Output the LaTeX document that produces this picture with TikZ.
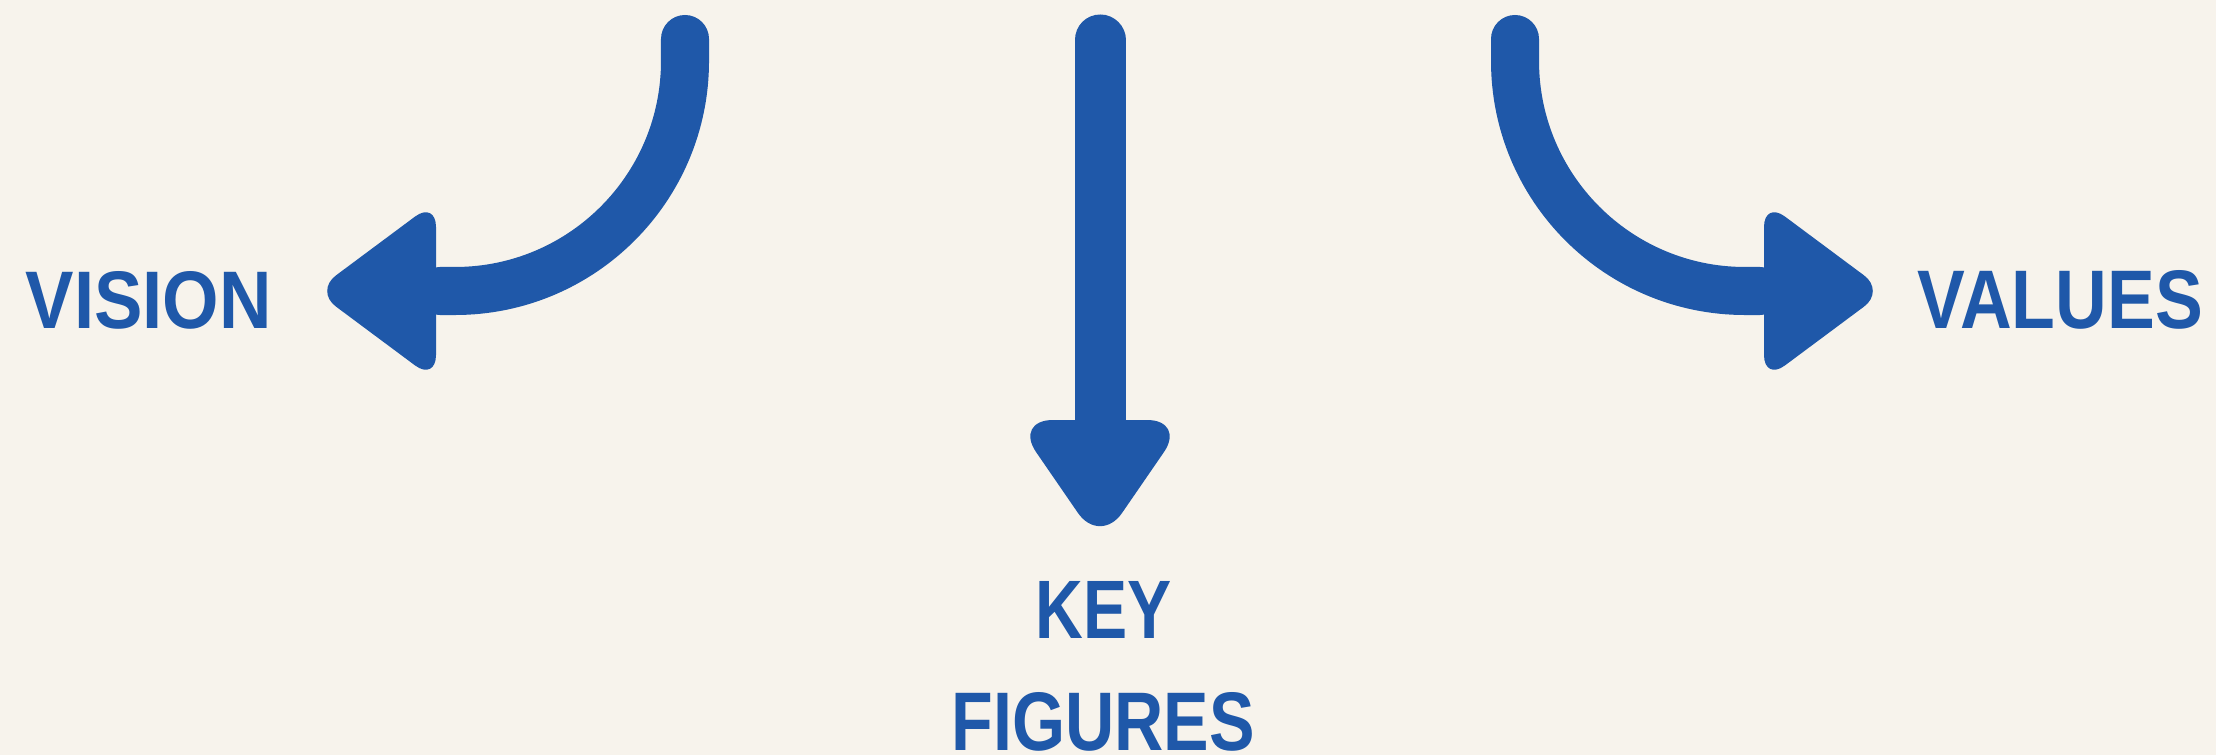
\documentclass[tikz,border=0pt]{standalone}
\usepackage{fontspec}
\usepackage{graphicx}
\setmainfont{Liberation Sans}
\definecolor{bg}{HTML}{F7F3EC}
\definecolor{blu}{HTML}{1F58A9}
\tikzset{
  shaft/.style={draw=blu, line width=0.48cm, line cap=round},
  head/.style={fill=blu, draw=none},
  lbl/.style={anchor=base west, inner sep=0pt, text=blu, font=\bfseries}
}
\begin{document}
\begin{tikzpicture}[x=0.01cm, y=-0.01cm]
\fill[bg] (0,0) rectangle (2216,755);
\useasboundingbox (0,0) rectangle (2216,755);
% labels
\node[lbl] (vision) at (25,328) {\resizebox{2.46cm}{0.57cm}{VISION}};
\node[lbl] (values) at (1917,329) {\resizebox{2.85cm}{0.58cm}{VALUES}};
\node[lbl] (key) at (1035,638) {\resizebox{1.36cm}{0.57cm}{KEY}};
\node[lbl] (figures) at (951,750) {\resizebox{3.03cm}{0.58cm}{FIGURES}};
% coordinates
\coordinate (ls) at (685,39);
\coordinate (lb) at (685,61);
\coordinate (lc) at (455,291);
\coordinate (le) at (440,291);
\coordinate (rs) at (1515,39);
\coordinate (rb) at (1515,61);
\coordinate (rc) at (1745,291);
\coordinate (re) at (1760,291);
\coordinate (ms) at (1100,40);
\coordinate (me) at (1100,425);
% left arrow
\draw[shaft] (ls) -- (lb) .. controls (685,188) and (582,291) .. (lc) -- (le);
\fill[head, rounded corners=0.26cm] (436,201) -- (436,381) -- (315,291) -- cycle;
% right arrow
\draw[shaft] (rs) -- (rb) .. controls (1515,188) and (1618,291) .. (rc) -- (re);
\fill[head, rounded corners=0.26cm] (1764,201) -- (1764,381) -- (1885,291) -- cycle;
% middle arrow
\draw[shaft, line width=0.51cm] (ms) -- (me);
\fill[head, rounded corners=0.39cm] (1014,420) -- (1186,420) -- (1100,545) -- cycle;
\end{tikzpicture}
\end{document}
